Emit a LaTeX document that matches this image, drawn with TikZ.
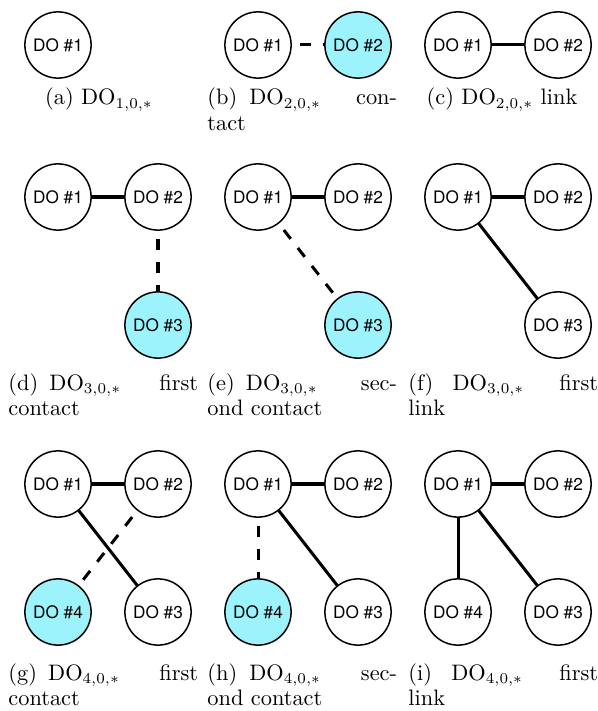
\documentclass[tikz,border=0pt]{standalone}
\usepackage{fontspec}
\usetikzlibrary{backgrounds}
\newfontfamily\nodefont{TeX Gyre Heros}
\definecolor{newdo}{RGB}{156,243,252}
\begin{document}
\begin{tikzpicture}[x=0.4651pt,y=-0.4651pt,
  donode/.style={circle,draw,line width=0.7pt,minimum size=30.8pt,inner sep=0pt,fill=white,
    font=\nodefont\fontsize{8}{9}\selectfont},
  newnode/.style={donode,fill=newdo},
  link/.style={line width=1.4pt},
  contact/.style={line width=1.4pt,dash pattern=on 5.2pt off 5.4pt,dash phase=1.7pt},
  captext/.style={anchor=base west,inner sep=0pt,font=\fontsize{10.4}{12}\selectfont},
  captextc/.style={anchor=base,inner sep=0pt,font=\fontsize{10.4}{12}\selectfont}]
\useasboundingbox (0,0) rectangle (598,711);

% (a)
\node[donode] (a1) at (58,45) {DO \#1};
\node[captextc] (capa) at (99,105) {(a) DO$_{1,0,*}$};

% (b)
\node[donode] (b1) at (258,45) {DO \#1};
\node[newnode] (b2) at (358,45) {DO \#2};
\node[captext] (capb) at (207,105) {\parbox[t]{88.2pt}{(b)\hspace{5.6pt}DO$_{2,0,*}$\hfill con-\\tact}};

% (c)
\node[donode] (c1) at (458,45) {DO \#1};
\node[donode] (c2) at (558,45) {DO \#2};
\node[captextc] (capc) at (502,105) {(c) DO$_{2,0,*}$ link};

% (d)
\node[donode] (d1) at (58,197) {DO \#1};
\node[donode] (d2) at (158,197) {DO \#2};
\node[newnode] (d3) at (158,325) {DO \#3};
\node[captext] (capd) at (8,390) {\parbox[t]{88.2pt}{(d)\hspace{5.2pt}DO$_{3,0,*}$\hfill first\\contact}};

% (e)
\node[donode] (e1) at (258,197) {DO \#1};
\node[donode] (e2) at (358,197) {DO \#2};
\node[newnode] (e3) at (358,325) {DO \#3};
\node[captext] (cape) at (207,390) {\parbox[t]{88.2pt}{(e)\hspace{5.2pt}DO$_{3,0,*}$\hfill sec-\\ond contact}};

% (f)
\node[donode] (f1) at (458,197) {DO \#1};
\node[donode] (f2) at (558,197) {DO \#2};
\node[donode] (f3) at (558,325) {DO \#3};
\node[captext] (capf) at (408,390) {\parbox[t]{88.2pt}{(f)\hspace{9pt}DO$_{3,0,*}$\hfill first\\link}};

% (g)
\node[donode] (g1) at (58,484) {DO \#1};
\node[donode] (g2) at (158,484) {DO \#2};
\node[donode] (g3) at (158,612) {DO \#3};
\node[newnode] (g4) at (58,612) {DO \#4};
\node[captext] (capg) at (8,680) {\parbox[t]{88.2pt}{(g)\hspace{5.2pt}DO$_{4,0,*}$\hfill first\\contact}};

% (h)
\node[donode] (h1) at (258,484) {DO \#1};
\node[donode] (h2) at (358,484) {DO \#2};
\node[donode] (h3) at (358,612) {DO \#3};
\node[newnode] (h4) at (258,612) {DO \#4};
\node[captext] (caph) at (207,680) {\parbox[t]{88.2pt}{(h)\hspace{5.6pt}DO$_{4,0,*}$\hfill sec-\\ond contact}};

% (i)
\node[donode] (i1) at (458,484) {DO \#1};
\node[donode] (i2) at (558,484) {DO \#2};
\node[donode] (i3) at (558,612) {DO \#3};
\node[donode] (i4) at (458,612) {DO \#4};
\node[captext] (capi) at (408,680) {\parbox[t]{88.2pt}{(i)\hspace{9pt}DO$_{4,0,*}$\hfill first\\link}};

\begin{scope}[on background layer]
  \draw[contact] (b1.center) -- (b2.center);
  \draw[link] (c1.center) -- (c2.center);
  \draw[link] (d1.center) -- (d2.center);
  \draw[contact] (d2.center) -- (d3.center);
  \draw[link] (e1.center) -- (e2.center);
  \draw[contact] (e1.center) -- (e3.center);
  \draw[link] (f1.center) -- (f2.center);
  \draw[link] (f1.center) -- (f3.center);
  \draw[link] (g1.center) -- (g2.center);
  \draw[link] (g1.center) -- (g3.center);
  \draw[contact] (g2.center) -- (g4.center);
  \draw[link] (h1.center) -- (h2.center);
  \draw[link] (h1.center) -- (h3.center);
  \draw[contact] (h1.center) -- (h4.center);
  \draw[link] (i1.center) -- (i2.center);
  \draw[link] (i1.center) -- (i3.center);
  \draw[link] (i1.center) -- (i4.center);
\end{scope}
\end{tikzpicture}
\end{document}
